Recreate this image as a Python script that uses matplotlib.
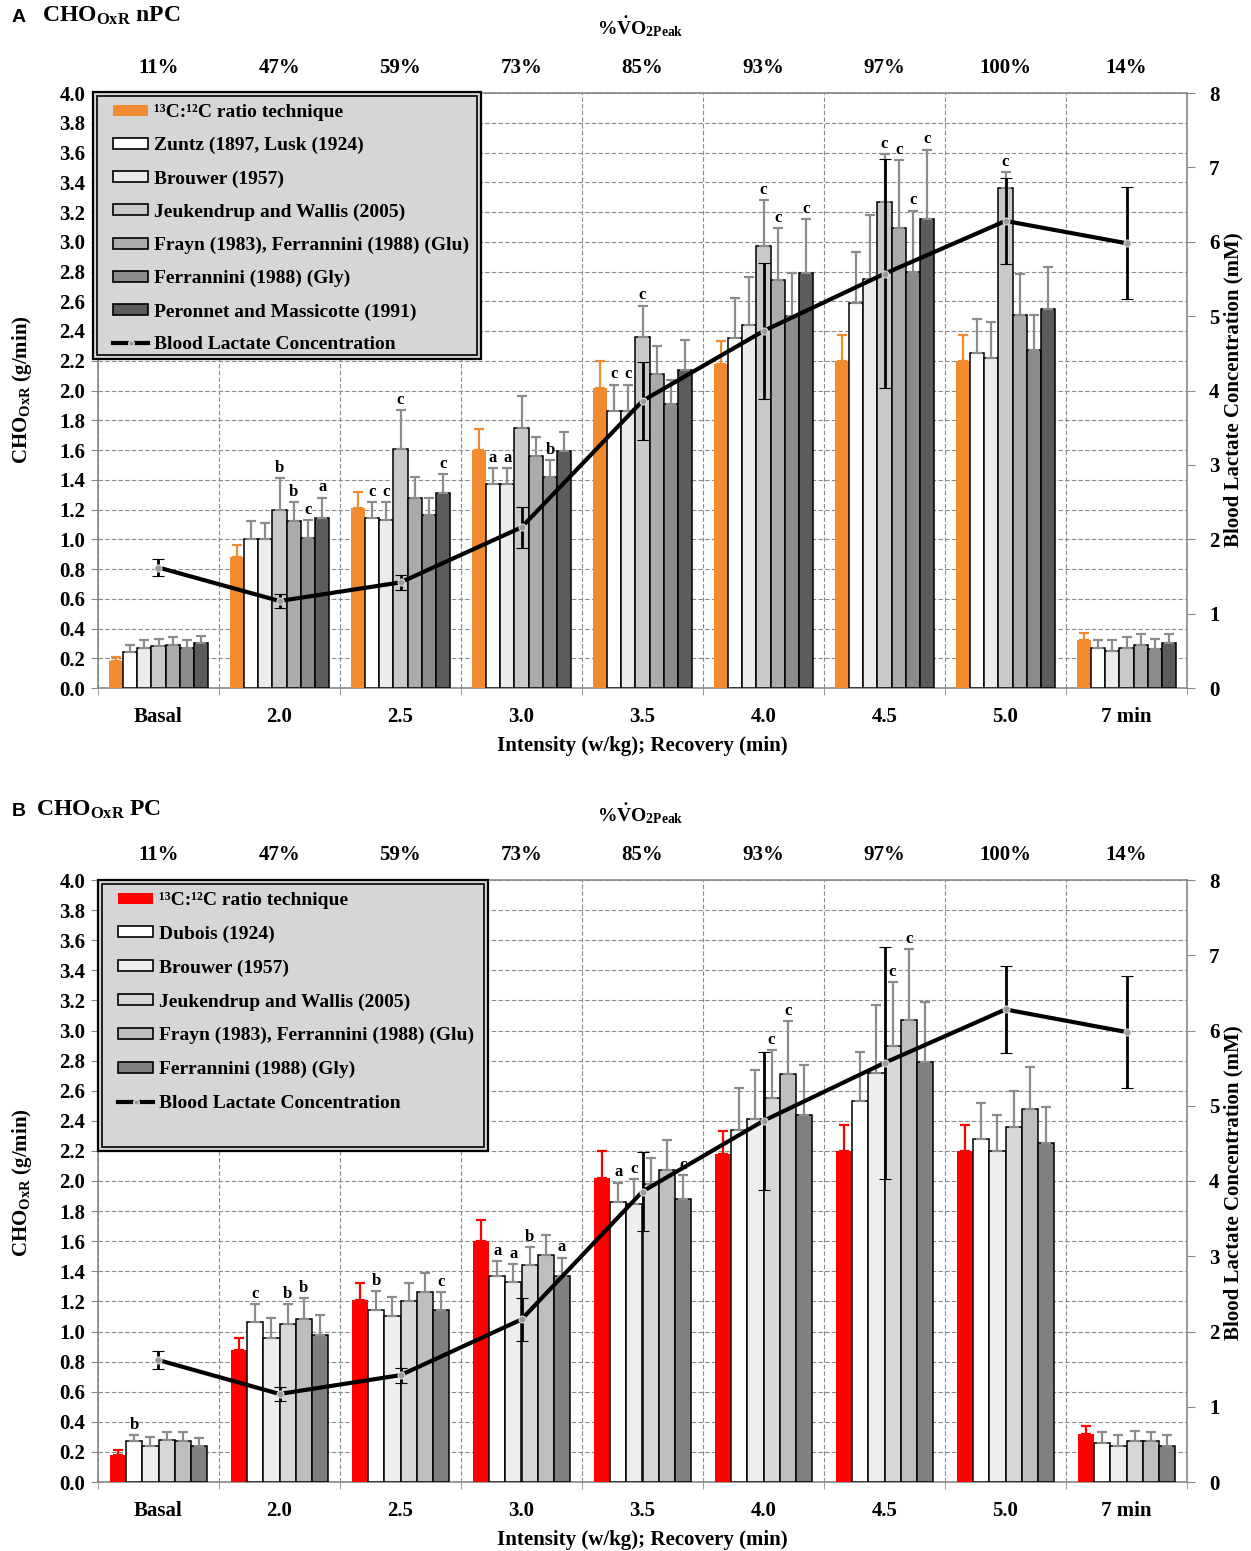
import matplotlib
matplotlib.use('Agg')
import matplotlib.pyplot as plt
import numpy as np
from matplotlib.patches import Rectangle, Patch
from matplotlib.lines import Line2D
from matplotlib.ticker import FormatStrFormatter
import matplotlib.transforms as mtransforms

plt.rcParams['font.family'] = 'Liberation Serif'
plt.rcParams['font.weight'] = 'bold'
plt.rcParams['axes.labelweight'] = 'bold'
plt.rcParams['mathtext.fontset'] = 'custom'
plt.rcParams['mathtext.rm'] = 'Liberation Serif:bold'
plt.rcParams['mathtext.it'] = 'Liberation Serif:bold:italic'
plt.rcParams['mathtext.bf'] = 'Liberation Serif:bold'

# ---- data ----
groups = ['Basal', '2.0', '2.5', '3.0', '3.5', '4.0', '4.5', '5.0', '7 min']
vo2_pct = ['11%', '47%', '59%', '73%', '85%', '93%', '97%', '100%', '14%']

# 13C:12C ratio technique (same in both panels)
c13 = [0.18, 0.88, 1.21, 1.60, 2.02, 2.18, 2.20, 2.20, 0.32]
c13_err = [0.03, 0.08, 0.11, 0.14, 0.18, 0.15, 0.17, 0.17, 0.05]

# blood lactate (mM)
lactate = [1.62, 1.17, 1.42, 2.16, 3.86, 4.80, 5.57, 6.28, 5.98]
lactate_err = [0.12, 0.09, 0.10, 0.28, 0.52, 0.92, 1.54, 0.58, 0.75]

# panel A - non protein corrected
zuntz = [0.24, 1.00, 1.14, 1.37, 1.86, 2.35, 2.59, 2.25, 0.27]
zuntz_err = [0.05, 0.12, 0.11, 0.11, 0.18, 0.27, 0.34, 0.23, 0.05]
brouwer_a = [0.27, 1.00, 1.13, 1.37, 1.86, 2.44, 2.75, 2.22, 0.25]
brouwer_a_err = [0.05, 0.11, 0.12, 0.11, 0.18, 0.32, 0.43, 0.24, 0.07]
jeuk_a = [0.28, 1.20, 1.61, 1.75, 2.36, 2.97, 3.27, 3.36, 0.27]
jeuk_a_err = [0.05, 0.21, 0.26, 0.21, 0.21, 0.31, 0.32, 0.11, 0.07]
frayn_a = [0.29, 1.12, 1.28, 1.56, 2.11, 2.74, 3.09, 2.51, 0.29]
frayn_a_err = [0.05, 0.13, 0.14, 0.13, 0.19, 0.35, 0.46, 0.27, 0.07]
ferr_a = [0.27, 1.01, 1.16, 1.42, 1.91, 2.50, 2.80, 2.27, 0.26]
ferr_a_err = [0.05, 0.12, 0.12, 0.11, 0.16, 0.29, 0.41, 0.24, 0.07]
peronnet = [0.30, 1.14, 1.31, 1.59, 2.14, 2.79, 3.15, 2.55, 0.30]
peronnet_err = [0.05, 0.14, 0.13, 0.13, 0.20, 0.36, 0.47, 0.28, 0.06]

letters_a = [
    [''] * 9,
    ['', '', 'c', 'a', 'c', '', '', '', ''],
    ['', '', 'c', 'a', 'c', '', '', '', ''],
    ['', 'b', 'c', '', 'c', 'c', 'c', 'c', ''],
    ['', 'b', '', '', '', 'c', 'c', '', ''],
    ['', 'c', '', 'b', '', '', 'c', '', ''],
    ['', 'a', 'c', '', '', 'c', 'c', '', ''],
]

# panel B - protein corrected
dubois = [0.27, 1.06, 1.14, 1.37, 1.86, 2.34, 2.53, 2.28, 0.26]
dubois_err = [0.04, 0.12, 0.13, 0.10, 0.13, 0.28, 0.33, 0.24, 0.07]
brouwer_b = [0.24, 0.96, 1.10, 1.33, 1.85, 2.41, 2.72, 2.20, 0.24]
brouwer_b_err = [0.06, 0.13, 0.13, 0.12, 0.16, 0.33, 0.45, 0.24, 0.07]
jeuk_b = [0.28, 1.05, 1.20, 1.44, 1.98, 2.55, 2.90, 2.36, 0.27]
jeuk_b_err = [0.05, 0.13, 0.12, 0.12, 0.17, 0.32, 0.42, 0.24, 0.07]
frayn_b = [0.27, 1.08, 1.26, 1.51, 2.07, 2.71, 3.07, 2.48, 0.27]
frayn_b_err = [0.06, 0.14, 0.13, 0.13, 0.20, 0.35, 0.47, 0.28, 0.06]
ferr_b = [0.24, 0.98, 1.14, 1.37, 1.88, 2.44, 2.79, 2.25, 0.24]
ferr_b_err = [0.05, 0.13, 0.12, 0.12, 0.16, 0.33, 0.40, 0.24, 0.07]

letters_b = [
    [''] * 9,
    ['b', 'c', 'b', 'a', 'a', '', '', '', ''],
    ['', '', '', 'a', 'c', '', '', '', ''],
    ['', 'b', '', 'b', '', 'c', 'c', '', ''],
    ['', 'b', '', '', '', 'c', 'c', '', ''],
    ['', '', 'c', 'a', 'c', '', '', '', ''],
]

labels_a = ['¹³C:¹²C ratio technique', 'Zuntz (1897, Lusk (1924)', 'Brouwer (1957)',
            'Jeukendrup and Wallis (2005)', 'Frayn (1983), Ferrannini (1988) (Glu)',
            'Ferrannini (1988) (Gly)', 'Peronnet and Massicotte (1991)']
labels_b = ['¹³C:¹²C ratio technique', 'Dubois (1924)', 'Brouwer (1957)',
            'Jeukendrup and Wallis (2005)', 'Frayn (1983), Ferrannini (1988) (Glu)',
            'Ferrannini (1988) (Gly)']

colors_a = ['#f28a30', 'white', '#ececec', '#c9c9c9', '#ababab', '#8b8b8b', '#5c5c5c']
colors_b = ['#ff0000', 'white', '#eeeeee', '#d8d8d8', '#bebebe', '#808080']

# ---- layout ----
W, H = 1251, 1551
fig = plt.figure(figsize=(W / 100, H / 100), dpi=100)


def fx(px):
    return px / W


def fy(py):
    return 1 - py / H


def draw_panel(top, bottom, series, errs, colors, letters, labels, width, box, spacing):
    ax = fig.add_axes([fx(98), fy(bottom), fx(1187 - 98), (bottom - top) / H])
    ax2 = ax.twinx()
    x = np.arange(len(groups))
    n = len(series)
    for i in range(n):
        xs = x + (i - (n - 1) / 2) * width
        first = i == 0
        ax.bar(xs, series[i], width, color=colors[i],
               edgecolor='none' if first else 'black', linewidth=1.1, zorder=3)
        ecol = colors[i] if first else '#8c8c8c'
        ax.errorbar(xs, series[i], yerr=[np.zeros(len(x)), errs[i]], fmt='none',
                    ecolor=ecol, elinewidth=1.6, capsize=3.5, capthick=1.6, zorder=4)
        for xi, v, e, t in zip(xs, series[i], errs[i], letters[i]):
            if t:
                ax.text(xi, v + e + 0.015, t, ha='center', va='bottom', fontsize=12,
                        fontweight='bold', zorder=5)

    ax.set_xlim(-0.5, len(groups) - 0.5)
    ax.set_ylim(0, 4.0)
    ax.set_yticks(np.arange(0, 4.01, 0.2))
    ax.yaxis.set_major_formatter(FormatStrFormatter('%.1f'))
    ax.set_xticks(x)
    ax.set_xticklabels(groups)
    ax.set_xticks(np.arange(-0.5, len(groups)), minor=True)
    ax.tick_params(axis='x', which='major', length=0, pad=14, labelsize=15)
    ax.tick_params(axis='x', which='minor', length=5, color='#888888', direction='out')
    ax.tick_params(axis='y', length=5, color='#888888', labelsize=15, pad=4)
    ax.yaxis.grid(True, ls=(0, (4, 2)), color='#8a8a8a', lw=0.8, zorder=0)
    ax.xaxis.grid(True, which='minor', ls=(0, (4, 2)), color='#8a8a8a', lw=0.8, zorder=0)
    ax.set_axisbelow(True)
    for s in ax.spines.values():
        s.set_color('#888888')
        s.set_linewidth(1.2)
    ax.set_xlabel('Intensity (w/kg); Recovery (min)', fontsize=15, fontweight='bold',
                  labelpad=6)

    ax2.errorbar(x, lactate, yerr=lactate_err, color='black', lw=3, ecolor='black',
                 elinewidth=2, capsize=4.5, capthick=2, marker='o', ms=5,
                 mfc='#9a9a9a', mec='#dddddd', mew=0.8, zorder=3)
    ax2.set_ylim(0, 8)
    ax2.set_yticks(range(0, 9))
    ax2.tick_params(axis='y', length=6, color='#888888', labelsize=15, pad=10)
    for s in ax2.spines.values():
        s.set_visible(False)

    # top percentage labels
    trans = mtransforms.blended_transform_factory(ax.transData, fig.transFigure)
    for xi, t in zip(x, vo2_pct):
        ax.text(xi, fy(top - 25), t, transform=trans, ha='center', va='center',
                fontsize=15, fontweight='bold')
    fig.text(fx(640), fy(top - 66), r'%$\dot{\mathrm{V}}$O$_{\mathrm{2Peak}}$',
             ha='center', va='center', fontsize=14)

    # legend box (double border)
    bx0, by0, bx1, by1 = box
    outer = Rectangle((fx(bx0), fy(by1)), fx(bx1 - bx0), (by1 - by0) / H,
                      transform=fig.transFigure, facecolor='#d6d6d6', edgecolor='black',
                      linewidth=1.6, clip_on=False, zorder=4)
    inner = Rectangle((fx(bx0 + 4), fy(by1 - 4)), fx(bx1 - bx0 - 8), (by1 - by0 - 8) / H,
                      transform=fig.transFigure, facecolor='none', edgecolor='black',
                      linewidth=1.2, clip_on=False, zorder=4.1)
    ax2.add_patch(outer)
    ax2.add_patch(inner)
    handles = [Patch(facecolor=colors[0], edgecolor='none')]
    handles += [Patch(facecolor=c, edgecolor='black', linewidth=1.2) for c in colors[1:]]
    handles.append(Line2D([], [], color='black', lw=3, marker='o', ms=4,
                          mfc='#9a9a9a', mec='#dddddd'))
    leg = ax2.legend(handles, labels + ['Blood Lactate Concentration'], loc='upper left',
                     bbox_to_anchor=(fx(bx0 + 20), fy(by0 + 12)),
                     bbox_transform=fig.transFigure, frameon=False, fontsize=14,
                     handlelength=1.8, handleheight=0.5, handletextpad=0.3,
                     labelspacing=spacing, borderpad=0, borderaxespad=0)
    leg.set_zorder(5)
    return ax, ax2


draw_panel(93, 688,
           [c13, zuntz, brouwer_a, jeuk_a, frayn_a, ferr_a, peronnet],
           [c13_err, zuntz_err, brouwer_a_err, jeuk_a_err, frayn_a_err, ferr_a_err, peronnet_err],
           colors_a, letters_a, labels_a, 0.118, (93, 92, 481, 359), 0.82)

draw_panel(880, 1482,
           [c13, dubois, brouwer_b, jeuk_b, frayn_b, ferr_b],
           [c13_err, dubois_err, brouwer_b_err, jeuk_b_err, frayn_b_err, ferr_b_err],
           colors_b, letters_b, labels_b, 0.134, (98, 880, 488, 1151), 0.85)

# axis titles
for yc in (390, 1183):
    fig.text(fx(22), fy(yc), r'CHO$_{\mathrm{OxR}}$ (g/min)', rotation=90,
             ha='center', va='center', fontsize=15)
    fig.text(fx(1233), fy(yc), 'Blood Lactate Concentration (mM)', rotation=90,
             ha='center', va='center', fontsize=15)

# panel headings
fig.text(fx(12), fy(18), 'A', family='Liberation Sans', fontweight='bold',
         fontsize=14, ha='left', va='center')
fig.text(fx(42), fy(16), r'CHO$_{\mathrm{OxR}}$ nPC', fontsize=17, ha='left', va='center')
fig.text(fx(12), fy(812), 'B', family='Liberation Sans', fontweight='bold',
         fontsize=14, ha='left', va='center')
fig.text(fx(36), fy(810), r'CHO$_{\mathrm{OxR}}$ PC', fontsize=17, ha='left', va='center')

fig.savefig('out.png', dpi=100)
